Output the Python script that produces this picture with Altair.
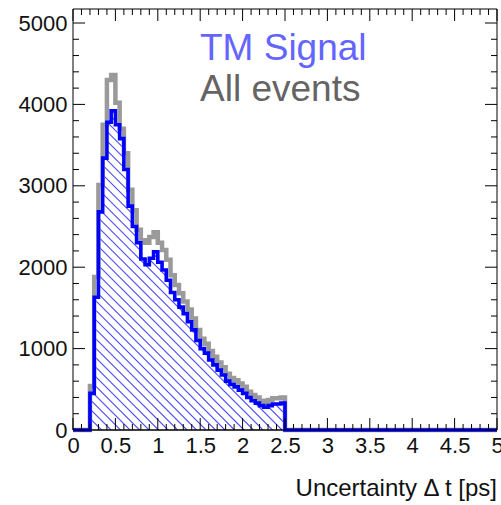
import altair as alt
import pandas as pd
import numpy as np

# ---------------- data ----------------
bin_width = 0.05
tm_signal = [0, 0, 0, 0, 450, 1630, 2680, 3340, 3780, 3920,
             3750, 3580, 3200, 2750, 2500, 2300, 2100, 2030, 2110, 2190,
             2060, 1965, 1840, 1690, 1600, 1510, 1430, 1330, 1230, 1100,
             1000, 945, 860, 800, 735, 675, 600, 560, 530, 490,
             450, 400, 360, 330, 300, 280, 300, 320, 320, 330] + [0] * 50
all_events = [0, 0, 0, 0, 540, 1880, 3010, 3750, 4300, 4360,
              4020, 3700, 3400, 2950, 2700, 2460, 2330, 2300, 2370, 2430,
              2300, 2210, 2090, 1900, 1780, 1680, 1580, 1480, 1370, 1230,
              1120, 1060, 970, 900, 830, 770, 690, 640, 610, 570,
              530, 470, 430, 400, 360, 340, 370, 390, 390, 400] + [0] * 50
x_major = [0, 0.5, 1, 1.5, 2, 2.5, 3, 3.5, 4, 4.5, 5]
y_major = [0, 1000, 2000, 3000, 4000, 5000]
legend_labels = ["TM Signal", "All events"]
x_title = "Uncertainty \u0394 t [ps]"

# ---------------- layout ----------------
W, H = 424, 421
XMAX = 5.0
YMAX = 5172
FONT = "Liberation Sans"
xs = alt.Scale(domain=[0, XMAX], nice=False, zero=False)
ys = alt.Scale(domain=[0, YMAX], nice=False, zero=False)
xaxis = alt.Axis(values=x_major, format="~g", ticks=False, tickSize=0, domain=False, grid=False,
                 labelFontSize=22, labelPadding=5, labelFlush=False, labelOverlap=False,
                 labelColor="#111", title=None)
yaxis = alt.Axis(values=y_major, format="d", ticks=False, tickSize=0, domain=False, grid=False,
                 labelFontSize=22, labelPadding=6, labelFlush=False, labelOverlap=False,
                 labelColor="#111", title=None)

nb = len(tm_signal)
edges = [round(i * bin_width, 4) for i in range(nb + 1)]
hist = pd.DataFrame({
    "x": edges,
    "sig": tm_signal + [tm_signal[-1]],
    "all": all_events + [all_events[-1]],
})

# hatch lines (45 deg, "\\" direction) drawn in pixel space, converted to data units
sp = 9.5
cs = np.arange(-H, W + sp, sp)
hatch = pd.DataFrame({
    "x1": cs / W * XMAX,
    "y1": [YMAX] * len(cs),
    "x2": (cs + H) / W * XMAX,
    "y2": [0.0] * len(cs),
})


def X(f):
    return alt.X(f, scale=xs, axis=xaxis)


def Y(f):
    return alt.Y(f, scale=ys, axis=yaxis)


hatch_layer = alt.Chart(hatch).mark_rule(color="#4a4aff", strokeWidth=1.1, clip=True).encode(
    x=X("x1:Q"), x2="x2:Q", y=Y("y1:Q"), y2="y2:Q")

mask = alt.Chart(hist).mark_area(color="white", interpolate="step-after", clip=True, opacity=1).encode(
    x=X("x:Q"), y=Y("sig:Q"), y2=alt.datum(YMAX))

gray_line = alt.Chart(hist).mark_line(color="#9a9a9a", strokeWidth=4.5, interpolate="step-after").encode(
    x=X("x:Q"), y=Y("all:Q"))

blue_line = alt.Chart(hist).mark_line(color="#0000ff", strokeWidth=3.6, interpolate="step-after").encode(
    x=X("x:Q"), y=Y("sig:Q"))

# ticks (inward, ROOT style)
x_minor = [round(i * 0.1, 2) for i in range(51) if i % 5 != 0]
y_minor = [i * 200 for i in range(1, 26) if i % 5 != 0]
MAJ, MIN = 12, 6


def yticks(vals, length):
    d = pd.DataFrame({"v": vals})
    left = alt.Chart(d).mark_rule(color="black", strokeWidth=1).encode(
        y=Y("v:Q"), x=alt.value(0), x2=alt.value(length))
    right = alt.Chart(d).mark_rule(color="black", strokeWidth=1).encode(
        y=Y("v:Q"), x=alt.value(W), x2=alt.value(W - length))
    return [left, right]


def xticks(vals, length):
    d = pd.DataFrame({"v": vals})
    bot = alt.Chart(d).mark_rule(color="black", strokeWidth=1).encode(
        x=X("v:Q"), y=alt.value(H), y2=alt.value(H - length))
    top = alt.Chart(d).mark_rule(color="black", strokeWidth=1).encode(
        x=X("v:Q"), y=alt.value(0), y2=alt.value(length))
    return [bot, top]


one = pd.DataFrame({"a": [0]})
frame = [
    alt.Chart(one).mark_rule(color="black", strokeWidth=1).encode(x=alt.value(0), x2=alt.value(W), y=alt.value(0)),
    alt.Chart(one).mark_rule(color="black", strokeWidth=1).encode(x=alt.value(0), x2=alt.value(W), y=alt.value(H)),
    alt.Chart(one).mark_rule(color="black", strokeWidth=1).encode(y=alt.value(0), y2=alt.value(H), x=alt.value(0)),
    alt.Chart(one).mark_rule(color="black", strokeWidth=1).encode(y=alt.value(0), y2=alt.value(H), x=alt.value(W)),
]

leg = pd.DataFrame({"t": legend_labels, "c": ["#6464ff", "#646464"], "yy": [51, 92]})
legend_text = alt.Chart(leg).mark_text(font=FONT, fontSize=37, align="left", baseline="alphabetic").encode(
    text="t:N", x=alt.value(127), y=alt.Y("yy:Q", scale=None), color=alt.Color("c:N", scale=None))

title_text = alt.Chart(pd.DataFrame({"t": [x_title]})).mark_text(
    font=FONT, fontSize=24, align="right", baseline="alphabetic", color="#111").encode(
    text="t:N", x=alt.value(W), y=alt.value(487))

layers = [hatch_layer, mask, frame[1], gray_line, blue_line] + frame + yticks(y_major, MAJ) + yticks(y_minor, MIN) \
    + xticks(x_major, MAJ) + xticks(x_minor, MIN) + [legend_text, title_text]

chart = alt.layer(*layers).properties(
    width=W, height=H,
    autosize=alt.AutoSizeParams(type="none"),
    padding={"left": 73, "top": 9, "right": 4, "bottom": 75},
    background="white",
).configure_view(stroke=None).configure_axis(labelFont=FONT)

chart.save("out.html", embed_options={"renderer": "svg", "actions": False})
